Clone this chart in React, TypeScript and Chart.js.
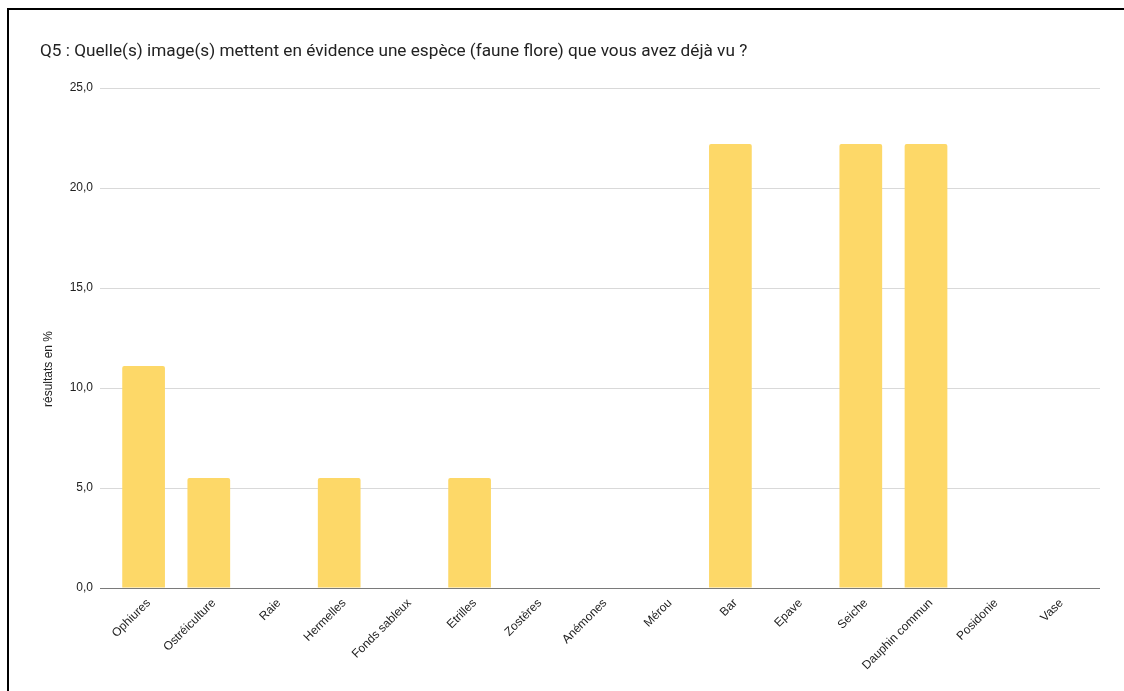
import React, { useEffect, useRef } from "react";
import { Chart, registerables } from "chart.js";

Chart.register(...registerables);

const chartTitle =
  "Q5 : Quelle(s) image(s) mettent en évidence une espèce (faune flore) que vous avez déjà vu ?";
const yAxisTitle = "résultats en %";
const categories = [
  "Ophiures",
  "Ostréiculture",
  "Raie",
  "Hermelles",
  "Fonds sableux",
  "Etrilles",
  "Zostères",
  "Anémones",
  "Mérou",
  "Bar",
  "Epave",
  "Seiche",
  "Dauphin commun",
  "Posidonie",
  "Vase",
];
const values = [11.1, 5.5, 0, 5.5, 0, 5.5, 0, 0, 0, 22.2, 0, 22.2, 22.2, 0, 0];
const yMin = 0;
const yMax = 25;
const yStep = 5;

const fmt = (v: number) => v.toFixed(1).replace(".", ",");
const gridColor = (ctx: any) =>
  ctx.tick && ctx.tick.value === 0 ? "#7a7a7a" : "#d9d9d9";

const axisFont = "'Liberation Sans', Arial, sans-serif";

// Draws the y-axis title (Sheets places it a bit below the plot centre)
const yTitlePlugin = {
  id: "yTitlePlugin",
  afterDraw(chart: any) {
    const { ctx, chartArea } = chart;
    const cx = chartArea.left - 62;
    const cy = chartArea.top + (chartArea.bottom - chartArea.top) * 0.562;
    ctx.save();
    ctx.translate(cx, cy);
    ctx.rotate(-Math.PI / 2);
    ctx.font = `12px ${axisFont}`;
    ctx.fillStyle = "#222222";
    ctx.textAlign = "center";
    ctx.textBaseline = "middle";
    ctx.fillText(yAxisTitle, 0, 0);
    ctx.restore();
  },
};

export default function App() {
  const canvasRef = useRef<HTMLCanvasElement | null>(null);

  useEffect(() => {
    if (!canvasRef.current) return;
    const chart = new Chart(canvasRef.current, {
      type: "bar",
      data: {
        labels: categories,
        datasets: [
          {
            data: values,
            backgroundColor: "#fdd868",
            borderRadius: 2,
            borderSkipped: "start",
            categoryPercentage: 1,
            barPercentage: 0.655,
          },
        ],
      },
      options: {
        animation: false,
        responsive: true,
        maintainAspectRatio: false,
        layout: { padding: { left: 31, right: 24, top: 0, bottom: 0 } },
        plugins: {
          legend: { display: false },
          tooltip: { enabled: false },
          title: {
            display: true,
            text: chartTitle,
            align: "start",
            color: "#222222",
            font: { family: "Roboto, 'Noto Sans', sans-serif", size: 17.2, weight: "normal" },
            padding: { top: 31.5, bottom: 25.9 },
          },
        },
        scales: {
          x: {
            grid: { display: false, drawTicks: true, tickLength: 8 },
            border: { display: false },
            ticks: {
              autoSkip: false,
              maxRotation: 45,
              minRotation: 45,
              padding: 0,
              labelOffset: 5,
              color: "#222222",
              font: { family: axisFont, size: 12 },
            },
            afterFit: (scale: any) => {
              scale.height = 103;
            },
          },
          y: {
            position: "left",
            min: yMin,
            max: yMax,
            border: { display: false },
            grid: {
              color: gridColor,
              lineWidth: 1,
              drawTicks: true,
              tickLength: 11,
            },
            ticks: {
              stepSize: yStep,
              padding: 7,
              color: "#222222",
              font: { family: axisFont, size: 12 },
              callback: (v: any) => fmt(Number(v)),
            },
            afterFit: (scale: any) => {
              scale.width = 71;
            },
          },
          y2: {
            position: "right",
            min: yMin,
            max: yMax,
            border: { display: false },
            grid: {
              color: gridColor,
              lineWidth: 1,
              drawOnChartArea: false,
              drawTicks: true,
              tickLength: 11,
            },
            ticks: { stepSize: yStep, display: false },
            afterFit: (scale: any) => {
              scale.width = 11;
            },
          },
        },
      } as any,
      plugins: [yTitlePlugin],
    });
    return () => chart.destroy();
  }, []);

  return (
    <div
      style={{
        position: "fixed",
        left: 7,
        top: 8,
        right: 0,
        bottom: 0,
        borderLeft: "2px solid #000",
        borderTop: "2px solid #000",
        background: "#fff",
      }}
    >
      <div style={{ position: "relative", width: "100%", height: "100%" }}>
        <canvas ref={canvasRef} />
      </div>
    </div>
  );
}
